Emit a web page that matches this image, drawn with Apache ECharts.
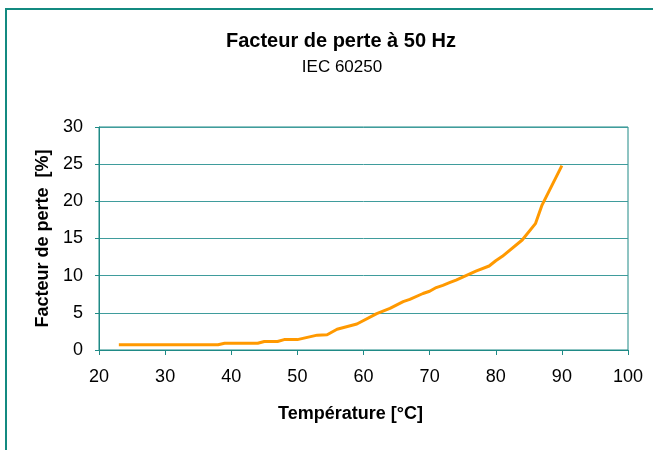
<!DOCTYPE html>
<html>
<head>
<meta charset="utf-8">
<script src="https://cdn.jsdelivr.net/npm/echarts@6/dist/echarts.min.js"></script>
<style>
html,body{margin:0;padding:0;background:#fff;}
#c{width:653px;height:450px;}
</style>
</head>
<body>
<div id="c"></div>
<script>
var titleText = 'Facteur de perte à 50 Hz';
var subtitleText = 'IEC 60250';
var xName = 'Température [°C]';
var yName = 'Facteur de perte  [%]';
var temperatures = [23, 38, 39, 44, 45, 47, 48, 50, 53, 54.5, 56, 59, 62, 64, 66, 67, 69, 70, 71, 72, 73, 74, 76, 77, 79, 80, 81, 84, 86, 87, 90];
var lossFactor = [0.7, 0.7, 0.9, 0.9, 1.15, 1.15, 1.4, 1.4, 2.0, 2.05, 2.8, 3.5, 4.9, 5.6, 6.5, 6.8, 7.6, 7.9, 8.4, 8.7, 9.05, 9.4, 10.2, 10.6, 11.3, 12.0, 12.6, 14.8, 17.0, 19.5, 24.8];
var xTicks = [20, 30, 40, 50, 60, 70, 80, 90, 100];
var yTicks = [0, 5, 10, 15, 20, 25, 30];

var seriesData = temperatures.map(function (t, i) { return [t, lossFactor[i]]; });
var teal = '#1f8a86';
var font = '"Liberation Sans", Arial, sans-serif';

var chart = echarts.init(document.getElementById('c'), null, {renderer: 'canvas'});
chart.setOption({
  animation: false,
  backgroundColor: '#fff',
  title: [{
    text: titleText,
    left: 336, top: 26, textAlign: 'center',
    textStyle: {fontFamily: font, fontSize: 20, fontWeight: 'bold', color: '#000'}
  }, {
    text: subtitleText,
    left: 337, top: 54, textAlign: 'center',
    textStyle: {fontFamily: font, fontSize: 17, fontWeight: 'normal', color: '#000'}
  }],
  graphic: [{
    type: 'polyline',
    shape: {points: [[6, 450], [6, 9], [653, 9]]},
    style: {stroke: '#138a80', lineWidth: 2, fill: null},
    silent: true
  }],
  grid: {
    left: 99, right: 25, top: 127, bottom: 100,
    show: true, borderColor: teal, borderWidth: 1, backgroundColor: 'transparent'
  },
  xAxis: {
    type: 'value',
    min: xTicks[0], max: xTicks[xTicks.length - 1], interval: 10,
    name: xName, nameLocation: 'middle', nameGap: 55,
    nameTextStyle: {fontFamily: font, fontSize: 18, fontWeight: 'bold', color: '#000', padding: [0, 26, 0, 0]},
    axisLine: {show: true, lineStyle: {color: teal, width: 1}},
    axisTick: {show: true, inside: false, length: 5, lineStyle: {color: teal}},
    axisLabel: {margin: 18, fontFamily: font, fontSize: 18, color: '#000'},
    splitLine: {show: false}
  },
  yAxis: {
    type: 'value',
    min: yTicks[0], max: yTicks[yTicks.length - 1], interval: 5,
    name: yName, nameLocation: 'middle', nameGap: 44, nameRotate: 90,
    nameTextStyle: {fontFamily: font, fontSize: 18, fontWeight: 'bold', color: '#000'},
    axisLine: {show: true, lineStyle: {color: teal, width: 1}},
    axisTick: {show: true, inside: false, length: 4, lineStyle: {color: teal}},
    axisLabel: {margin: 16, fontFamily: font, fontSize: 18, color: '#000'},
    splitLine: {show: true, lineStyle: {color: '#3f9c9c', width: 1}}
  },
  series: [{
    type: 'line',
    data: seriesData,
    showSymbol: false,
    symbol: 'none',
    smooth: false,
    lineStyle: {color: '#FF9900', width: 3},
    itemStyle: {color: '#FF9900'}
  }]
});
</script>
</body>
</html>
